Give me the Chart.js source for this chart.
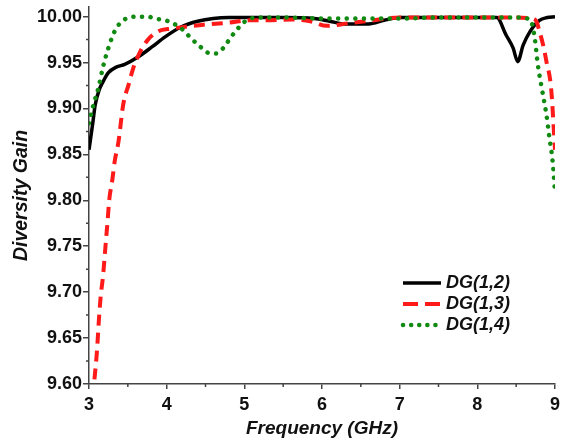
<!DOCTYPE html>
<html><head><meta charset="utf-8">
<script src="https://cdn.jsdelivr.net/npm/chart.js@4.4.1/dist/chart.umd.min.js"></script>
<style>html,body{margin:0;padding:0;background:#fff;} #wrap{width:565px;height:440px;}</style>
</head><body><div id="wrap"><canvas id="c" width="565" height="440"></canvas></div>
<script>
// ---- data ----
const seriesLabels = ['DG(1,2)', 'DG(1,3)', 'DG(1,4)'];

const freq12 = [3.00,3.05,3.08,3.13,3.18,3.25,3.35,3.46,3.63,3.81,3.98,4.19,4.40,4.60,4.80,5.00,5.50,5.90,6.10,6.30,6.60,6.80,7.00,7.50,8.00,8.25,8.37,8.46,8.52,8.59,8.68,8.80,8.90,9.00];
const dg12   = [9.855,9.885,9.904,9.920,9.929,9.939,9.945,9.948,9.956,9.967,9.978,9.989,9.995,9.998,9.999,9.999,9.999,9.998,9.995,9.992,9.992,9.996,9.999,9.999,9.999,9.999,9.980,9.966,9.951,9.969,9.984,9.996,9.999,10.000];

const freq13 = [3.07,3.10,3.13,3.15,3.18,3.20,3.22,3.24,3.26,3.30,3.33,3.38,3.44,3.51,3.57,3.66,3.76,3.89,4.06,4.24,4.45,4.81,5.07,5.30,5.62,5.85,6.06,6.36,6.57,7.00,7.50,8.00,8.50,8.70,8.76,8.80,8.85,8.89,8.95,9.00];
const dg13   = [9.605,9.633,9.673,9.695,9.717,9.737,9.758,9.778,9.800,9.822,9.842,9.864,9.904,9.926,9.944,9.962,9.975,9.984,9.987,9.989,9.991,9.9935,9.996,9.996,9.997,9.995,9.990,9.993,9.995,9.999,9.999,9.999,9.999,9.998,9.995,9.984,9.968,9.951,9.922,9.855];

const freq14 = [3.00,3.06,3.12,3.18,3.25,3.33,3.42,3.52,3.63,3.75,3.85,4.02,4.19,4.32,4.45,4.56,4.64,4.72,4.79,4.90,5.05,5.20,5.50,6.00,6.50,7.00,7.50,8.00,8.50,8.68,8.74,8.78,8.83,8.89,8.93,8.97,9.00];
const dg14   = [9.884,9.905,9.922,9.945,9.966,9.984,9.9946,9.999,10.000,10.000,9.998,9.995,9.987,9.976,9.966,9.960,9.960,9.965,9.973,9.9855,9.997,9.999,9.999,9.998,9.998,9.998,9.999,9.999,9.999,9.997,9.976,9.947,9.922,9.893,9.867,9.842,9.809];

const xTicks = [3,4,5,6,7,8,9];
const yTicks = [9.60,9.65,9.70,9.75,9.80,9.85,9.90,9.95,10.00];
const xMinor = [3.5,4.5,5.5,6.5,7.5,8.5];
const yMinor = [9.625,9.675,9.725,9.775,9.825,9.875,9.925,9.975];

const FONT = '"Liberation Sans", Arial, Helvetica, sans-serif';
const AXIS = '#444';

function pts(xs, ys){ return xs.map((x,i)=>({x:x, y:ys[i]})); }

const minorTicks = {
  id:'minorTicks',
  afterDraw(chart){
    const ctx = chart.ctx, xs = chart.scales.x, ys = chart.scales.y;
    const a = chart.chartArea;
    ctx.save();
    ctx.strokeStyle = AXIS; ctx.lineWidth = 1.5;
    ctx.beginPath();
    xMinor.forEach(v=>{ const p = xs.getPixelForValue(v); ctx.moveTo(p, a.bottom); ctx.lineTo(p, a.bottom+3); });
    yMinor.forEach(v=>{ const p = ys.getPixelForValue(v); ctx.moveTo(a.left, p); ctx.lineTo(a.left-3, p); });
    ctx.stroke();
    ctx.restore();
  }
};

const innerLegend = {
  id:'innerLegend',
  afterDatasetsDraw(chart){
    const ctx = chart.ctx, a = chart.chartArea;
    const x0 = a.left + 314, x1 = a.left + 352, tx = a.left + 357;
    const y0 = a.top + 276, dy = 21;
    ctx.save();
    chart.data.datasets.forEach((ds, i)=>{
      const y = y0 + i*dy;
      ctx.strokeStyle = ds.borderColor;
      ctx.lineWidth = ds.borderWidth;
      ctx.lineCap = ds.borderCapStyle || 'butt';
      ctx.setLineDash(ds.legendDash || []);
      ctx.beginPath(); ctx.moveTo(x0, y); ctx.lineTo(x1, y); ctx.stroke();
      ctx.setLineDash([]);
      ctx.fillStyle = '#111';
      ctx.font = 'italic bold 18px ' + FONT;
      ctx.textBaseline = 'middle'; ctx.textAlign = 'left';
      ctx.fillText(ds.label, tx, y);
    });
    ctx.restore();
  }
};

new Chart(document.getElementById('c'), {
  type:'line',
  data:{
    datasets:[
      {label:seriesLabels[0], data:pts(freq12,dg12), borderColor:'#000000', borderWidth:3.5, pointRadius:0, cubicInterpolationMode:'monotone', order:3, legendDash:[]},
      {label:seriesLabels[1], data:pts(freq13,dg13), borderColor:'#ff1a1a', borderWidth:4, borderDash:[11,7], pointRadius:0, cubicInterpolationMode:'monotone', order:2, legendDash:[15,7]},
      {label:seriesLabels[2], data:pts(freq14,dg14), borderColor:'#118a11', borderWidth:4.5, borderDash:[0.1,8.5], borderCapStyle:'round', pointRadius:0, cubicInterpolationMode:'monotone', order:1, legendDash:[0.1,8]}
    ]
  },
  options:{
    responsive:false, animation:false, devicePixelRatio:1,
    layout:{padding:{top:7,right:10,left:0,bottom:0}},
    plugins:{legend:{display:false}, tooltip:{enabled:false}},
    scales:{
      x:{
        type:'linear', min:3, max:9,
        afterBuildTicks(s){ s.ticks = xTicks.map(v=>({value:v})); },
        afterFit(s){ s.height = 56; s.paddingLeft = 0; s.paddingRight = 0; },
        grid:{drawOnChartArea:false, drawTicks:true, tickLength:5, color:AXIS, lineWidth:1.5},
        border:{display:true, color:AXIS, width:1.5},
        ticks:{padding:5, color:'#111', font:{family:FONT, size:18, weight:'bold'}, maxRotation:0, callback:v=>String(v)},
        title:{display:true, text:'Frequency (GHz)', color:'#111', font:{family:FONT, size:19, weight:'bold', style:'italic'}, padding:{top:3,bottom:0}}
      },
      y:{
        type:'linear', min:9.6, max:10.0105,
        afterBuildTicks(s){ s.ticks = yTicks.map(v=>({value:v})); },
        afterFit(s){ s.width = 89; s.paddingTop = 0; s.paddingBottom = 0; },
        grid:{drawOnChartArea:false, drawTicks:true, tickLength:6, color:AXIS, lineWidth:1.5},
        border:{display:true, color:AXIS, width:1.5},
        ticks:{padding:1, color:'#111', font:{family:FONT, size:18, weight:'bold'}, callback:v=>Number(v).toFixed(2)},
        title:{display:true, text:'Diversity Gain', color:'#111', font:{family:FONT, size:19.5, weight:'bold', style:'italic'}, padding:{top:10,bottom:0}}
      }
    }
  },
  plugins:[minorTicks, innerLegend]
});
</script>
</body></html>
